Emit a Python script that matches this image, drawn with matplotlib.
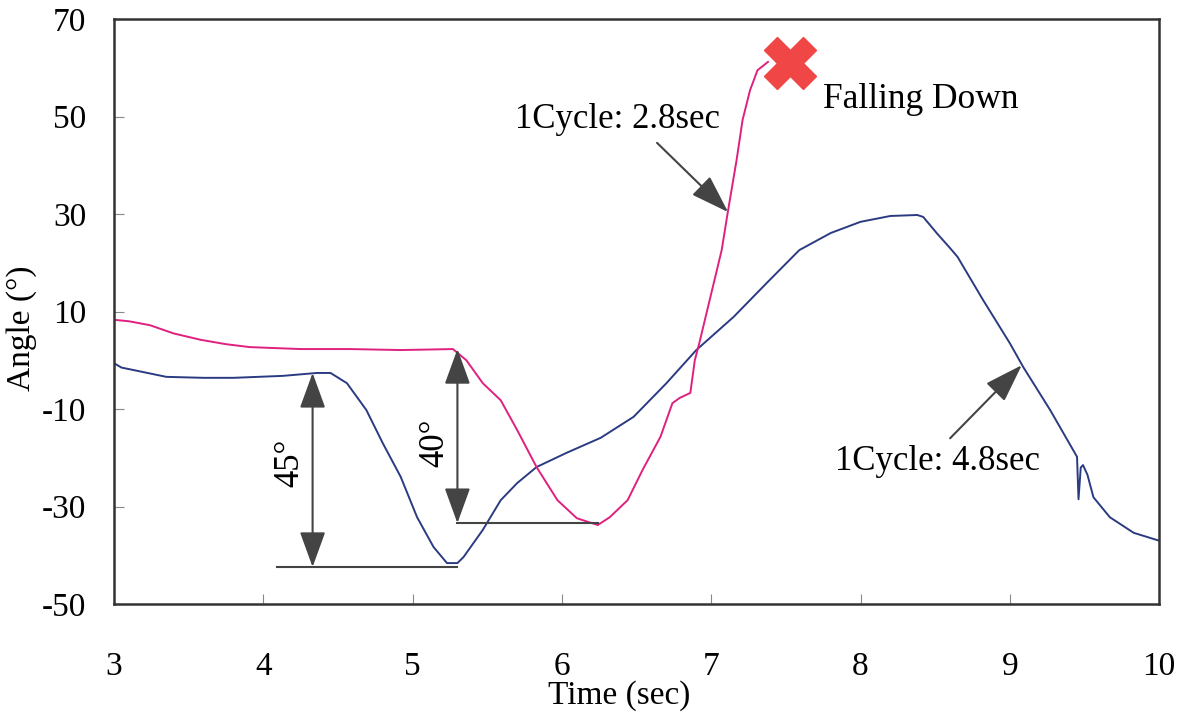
import matplotlib
matplotlib.use("Agg")
import matplotlib.pyplot as plt

plt.rcParams['font.family'] = ['Liberation Serif', 'DejaVu Serif']
plt.rcParams['axes.unicode_minus'] = False

# pink trace (falls down after ~2.8 s cycle)
t_fall = [3.00, 3.10, 3.24, 3.40, 3.58, 3.75, 3.91, 4.25, 4.58, 4.92, 5.10, 5.27,
          5.36, 5.47, 5.59, 5.70, 5.83, 5.97, 6.10, 6.24, 6.32, 6.44, 6.54, 6.66,
          6.74, 6.79, 6.86, 6.89, 6.92, 6.99, 7.07, 7.11, 7.17, 7.21, 7.26, 7.31, 7.38]
ang_fall = [8.3, 8.0, 7.2, 5.5, 4.2, 3.3, 2.7, 2.3, 2.3, 2.1, 2.2, 2.3,
            0.0, -4.7, -8.2, -14.3, -21.9, -28.7, -32.4, -33.8, -32.2, -28.7, -22.5, -15.7,
            -8.8, -7.7, -6.7, 0.0, 3.5, 12.4, 22.6, 30.2, 41.1, 49.3, 55.4, 59.5, 61.2]

# blue trace (stable walk, 4.8 s cycle)
t_walk = [3.00, 3.05, 3.13, 3.35, 3.60, 3.80, 4.13, 4.36, 4.45, 4.56, 4.69, 4.80,
          4.92, 5.03, 5.14, 5.23, 5.30, 5.34, 5.47, 5.59, 5.70, 5.83, 6.03, 6.26,
          6.48, 6.70, 6.90, 7.15, 7.37, 7.59, 7.80, 8.00, 8.20, 8.38, 8.42, 8.51,
          8.60, 8.65, 8.82, 9.00, 9.09, 9.27, 9.45, 9.46, 9.475, 9.49, 9.52, 9.56,
          9.67, 9.83, 10.00]
ang_walk = [-0.6, -1.5, -2.0, -3.4, -3.6, -3.6, -3.2, -2.6, -2.6, -4.7, -10.2, -17.0,
            -23.9, -32.2, -38.3, -41.6, -41.6, -40.4, -34.8, -28.7, -25.2, -21.9, -19.0, -15.9,
            -11.6, -4.7, 2.1, 8.9, 15.8, 22.6, 26.1, 28.4, 29.6, 29.8, 29.4, 26.1,
            23.0, 21.2, 12.4, 3.5, -1.4, -10.2, -19.8, -28.5, -22.0, -21.5, -23.5, -28.1,
            -32.2, -35.4, -37.0]

x_ticks = [3, 4, 5, 6, 7, 8, 9, 10]
y_ticks = [-50, -30, -10, 10, 30, 50, 70]

fig = plt.figure(figsize=(11.84, 7.15), dpi=100)
ax = fig.add_axes([0.0963, 0.1552, 0.8827, 0.8182])

ax.plot(t_walk, ang_walk, color='#2b3b82', lw=1.4)
ax.plot(t_fall, ang_fall, color='#e0207e', lw=1.4)

# fall marker
ax.plot([7.53], [61.0], marker='X', ms=37, color='#f04646', mec='#f04646', zorder=5)
ax.text(7.75, 53.4, 'Falling Down', fontsize=25.5, ha='left', va='center')

gray = '#444444'
dbl = dict(arrowstyle='<|-|>,head_length=1.1,head_width=0.4', color=gray, lw=1.5,
           shrinkA=0, shrinkB=0, mutation_scale=20)
one = dict(arrowstyle='-|>,head_length=1.2,head_width=0.4', color=gray, lw=1.5,
           shrinkA=0, shrinkB=0, mutation_scale=20)

# 45 deg span
ax.annotate('', xy=(4.33, -42.4), xytext=(4.33, -2.6), arrowprops=dbl)
ax.plot([4.09, 5.30], [-42.4, -42.4], color=gray, lw=1.5)
ax.text(4.18, -21.1, '45°', fontsize=25, rotation=90, ha='center', va='center')

# 40 deg span
ax.annotate('', xy=(5.30, -33.4), xytext=(5.30, 2.3), arrowprops=dbl)
ax.plot([5.30, 6.24], [-33.4, -33.4], color=gray, lw=1.5)
ax.text(5.15, -17.0, '40°', fontsize=25, rotation=90, ha='center', va='center')

# cycle notes
ax.annotate('', xy=(7.113, 30.4), xytext=(6.637, 44.6), arrowprops=one)
ax.text(5.686, 49.3, '1Cycle: 2.8sec', fontsize=25, ha='left', va='center')
ax.annotate('', xy=(9.08, -1.0), xytext=(8.60, -16.0), arrowprops=one)
ax.text(7.83, -20.8, '1Cycle: 4.8sec', fontsize=25, ha='left', va='center')

ax.set_xlim(3, 10)
ax.set_ylim(-50, 70)
ax.set_xticks(x_ticks)
ax.set_yticks(y_ticks)
ax.tick_params(direction='in', length=7, width=0.8, color='#888888', labelsize=24,
               top=False, right=False)
ax.tick_params(axis='x', pad=34)
ax.tick_params(axis='y', pad=20)
for s in ax.spines.values():
    s.set_linewidth(1.8)
    s.set_color('#333333')

ax.set_xlabel('Time (sec)', fontsize=24)
ax.xaxis.set_label_coords(0.483, -0.13)
ax.set_ylabel('Angle (°)', fontsize=24)
ax.yaxis.set_label_coords(-0.074, 0.472)

fig.savefig('out.png', dpi=100)
